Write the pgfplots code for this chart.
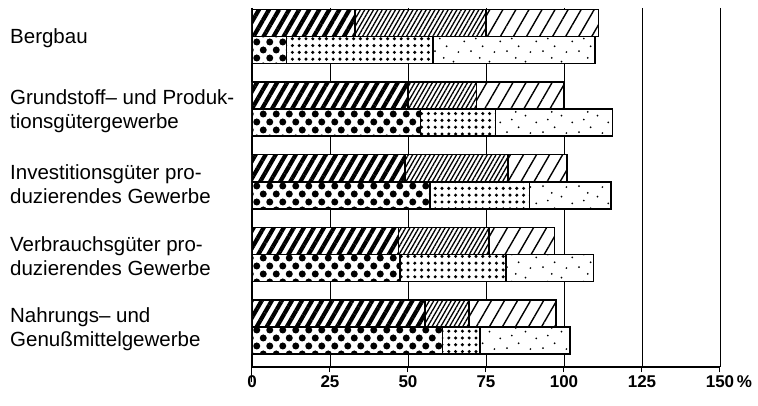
\documentclass[border=0pt]{standalone}
\usepackage{pgfplots}
\pgfplotsset{compat=1.18}
\usepackage{fontspec}
\setmainfont{Liberation Sans}
\usetikzlibrary{patterns,patterns.meta}

\pgfdeclarepatternformonly{bigdots}{\pgfpoint{-0.5pt}{-0.5pt}}{\pgfpoint{13.5pt}{16.5pt}}{\pgfpoint{13pt}{16pt}}{%
  \pgfpathcircle{\pgfpoint{3.25pt}{4pt}}{3.5pt}%
  \pgfpathcircle{\pgfpoint{9.75pt}{12pt}}{3.5pt}%
  \pgfusepath{fill}}
\pgfdeclarepatternformonly{sparsedots}{\pgfpointorigin}{\pgfpoint{36pt}{27pt}}{\pgfpoint{36pt}{27pt}}{%
  \pgfpathcircle{\pgfpoint{3pt}{4pt}}{1pt}%
  \pgfpathcircle{\pgfpoint{15pt}{9pt}}{1pt}%
  \pgfpathcircle{\pgfpoint{27pt}{3pt}}{1pt}%
  \pgfpathcircle{\pgfpoint{8pt}{17pt}}{1pt}%
  \pgfpathcircle{\pgfpoint{22pt}{21pt}}{1pt}%
  \pgfpathcircle{\pgfpoint{33pt}{14pt}}{1pt}%
  \pgfpathcircle{\pgfpoint{12pt}{25pt}}{1pt}%
  \pgfusepath{fill}}

\pgfplotsset{
  common/.style={width=468pt,height=359pt,scale only axis,at={(0pt,0pt)},anchor=south west,
    xmin=0,xmax=150,ymin=-0.39,ymax=4.55,y dir=reverse,
    xbar stacked,bar width=27pt,bar shift=0pt},
  seg/.style={fill=white,draw=black,line width=1.6pt},
}

\begin{document}
\begin{tikzpicture}
\useasboundingbox (-252pt,-39pt) rectangle (506pt,367pt);
\begin{axis}[common,
  axis x line*=bottom, axis y line*=left,
  xtick={0,25,50,75,100,125,150},
  xticklabels={0,25,50,75,100,125,150\rlap{\,\%}},
  xmajorgrids, grid style={black,line width=0.8pt},
  tick align=outside, major tick length=5pt,
  x tick style={black,line width=1pt},
  xticklabel style={font=\bfseries\fontsize{17}{17}\selectfont},
  /pgf/number format/assume math mode=true,
  ytick={0,1,2,3,4},
  yticklabels={Bergbau,
    {Grundstoff– und Produk-\\tionsgütergewerbe},
    {Investitionsgüter pro-\\duzierendes Gewerbe},
    {Verbrauchsgüter pro-\\duzierendes Gewerbe},
    {Nahrungs– und\\Genußmittelgewerbe}},
  y tick style={draw=none},
  yticklabel style={anchor=west, align=left, font=\fontsize{20.5}{24}\selectfont, xshift=-237pt, yshift=-2pt, inner sep=0pt},
  x axis line style={line width=1.3pt},
  y axis line style={line width=2pt},
  extra x ticks={0}, extra x tick labels={},
  extra x tick style={grid=none, major tick length=15pt, tick style={line width=2pt}},
]
\addplot[seg,postaction={pattern={Lines[angle=60,distance=8.7pt,line width=4.2pt]}}]
  coordinates {(33,-0.186) (50,0.814) (49,1.814) (47,2.814) (55.5,3.814)};
\addplot[seg,postaction={pattern={Lines[angle=60,distance=3.8pt,line width=1.3pt]}}]
  coordinates {(42,-0.186) (22,0.814) (33,1.814) (29,2.814) (14,3.814)};
\addplot[seg,postaction={pattern={Lines[angle=60,distance=11.3pt,line width=1.4pt]}}]
  coordinates {(36,-0.186) (28,0.814) (19,1.814) (21,2.814) (28,3.814)};
\end{axis}
\begin{axis}[common, hide axis]
\addplot[seg,postaction={pattern=bigdots}]
  coordinates {(11,0.186) (54,1.186) (57,2.186) (47.5,3.186) (61,4.186)};
\addplot[seg,postaction={pattern={Dots[distance=6.8pt,radius=1.7pt]}}]
  coordinates {(47,0.186) (24,1.186) (32,2.186) (34,3.186) (12,4.186)};
\addplot[seg,postaction={pattern=sparsedots}]
  coordinates {(52,0.186) (37.5,1.186) (26,2.186) (28,3.186) (29,4.186)};
\end{axis}
\end{tikzpicture}
\end{document}
